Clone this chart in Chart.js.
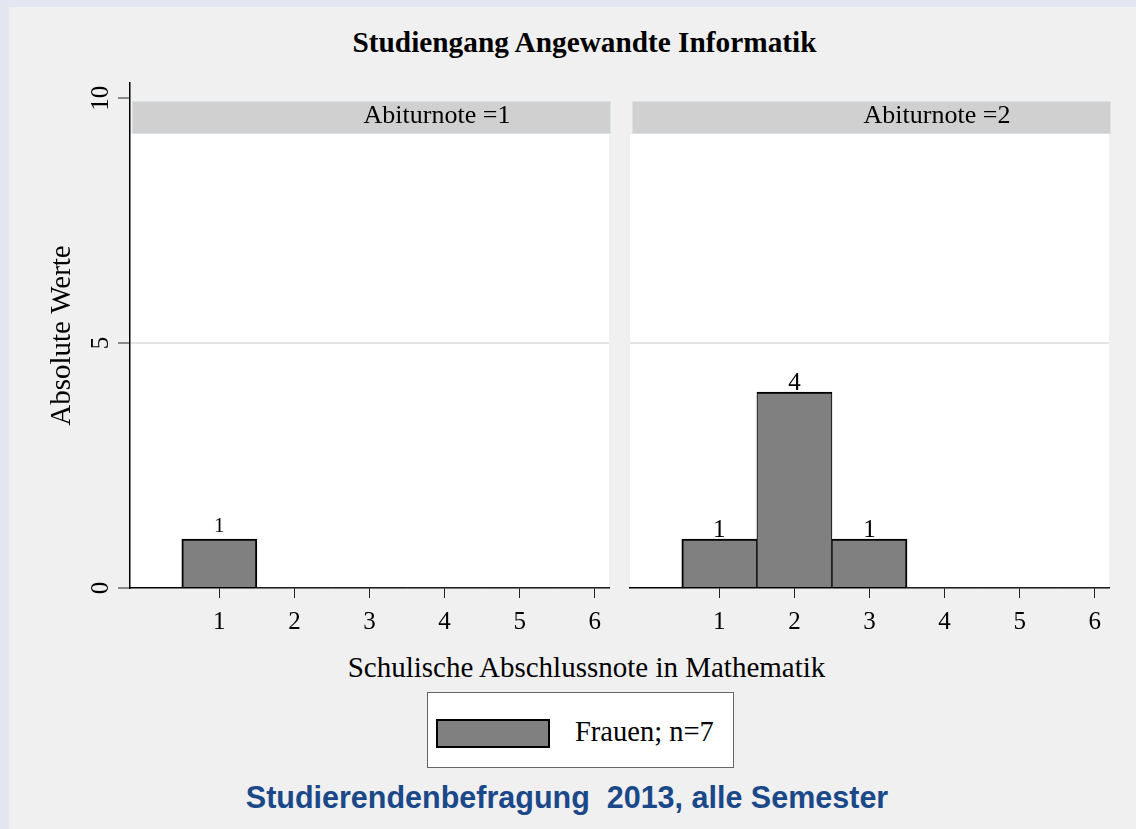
<!DOCTYPE html>
<html><head><meta charset="utf-8">
<script src="https://cdn.jsdelivr.net/npm/chart.js@4.4.0/dist/chart.umd.min.js"></script>
<style>
html,body{margin:0;padding:0;}
body{width:1136px;height:829px;background:#f0f0f0;position:relative;overflow:hidden;font-family:"Liberation Serif","Times New Roman",serif;}
#bandTop{position:absolute;left:0;top:0;width:1136px;height:7px;background:#e3e5f1;}
#bandLeft{position:absolute;left:0;top:0;width:9px;height:829px;background:#e3e5f1;}
.txt{position:absolute;white-space:nowrap;line-height:1;transform:translateX(-50%);color:#000;}
canvas{position:absolute;top:0;}
#legend{position:absolute;left:427px;top:692px;width:305px;height:74px;background:#fff;border:1px solid #666;}
#swatch{position:absolute;left:8px;top:26px;width:110px;height:25px;background:#808080;border:2px solid #000;}
#legText{position:absolute;left:147px;top:25px;font-size:28.5px;line-height:1;white-space:nowrap;}
</style></head>
<body>
<div id="bandTop"></div><div id="bandLeft"></div>
<div class="txt" id="title" style="left:584.5px;top:27.7px;font-size:29.3px;font-weight:bold;"></div>
<canvas id="c1" width="620" height="640" style="left:0px;width:620px;height:640px;"></canvas>
<canvas id="c2" width="516" height="640" style="left:620px;width:516px;height:640px;"></canvas>
<div class="txt" id="xtitle" style="left:586.5px;top:652.7px;font-size:29px;"></div>
<div id="legend"><div id="swatch"></div><div id="legText"></div></div>
<div class="txt" id="footer" style="left:567px;top:782.3px;font-size:30.5px;font-weight:bold;font-family:'Liberation Sans',Arial,sans-serif;color:#1a4888;"></div>
<script>
// ---- data ----
const grades = [1, 2, 3, 4, 5, 6];
const countsAbi1 = [1, 0, 0, 0, 0, 0];
const countsAbi2 = [1, 4, 1, 0, 0, 0];
const panelTitles = ['Abiturnote =1', 'Abiturnote =2'];
const yTicks = [0, 5, 10];
const yMax = 10.31;
const xMin = -0.19, xMax = 6.19;
const seriesLabel = 'Frauen; n=7';
const chartTitle = 'Studiengang Angewandte Informatik';
const xTitle = 'Schulische Abschlussnote in Mathematik';
const yTitle = 'Absolute Werte';
const footerText = 'Studierendenbefragung\u00a0\u00a02013, alle Semester';

document.getElementById('title').textContent = chartTitle;
document.getElementById('xtitle').textContent = xTitle;
document.getElementById('legText').textContent = seriesLabel;
document.getElementById('footer').textContent = footerText;

const SERIF = 'Liberation Serif';

const panelPlugin = {
  id: 'panel',
  beforeDraw(chart, args, opts) {
    const {ctx, chartArea: a} = chart;
    const stripTop = a.top + 18, stripH = 33;
    ctx.save();
    ctx.fillStyle = '#ffffff';
    ctx.fillRect(a.left, stripTop + stripH, a.right - a.left, a.bottom - stripTop - stripH);
    ctx.fillStyle = '#d0d0d0';
    ctx.fillRect(a.left + 2, stripTop, a.right - a.left, stripH);
    ctx.strokeStyle = '#d9e2e7';
    ctx.lineWidth = 1;
    ctx.strokeRect(a.left + 2.5, stripTop + 0.5, a.right - a.left - 1, stripH - 1);
    ctx.fillStyle = '#000';
    ctx.font = '26px "' + SERIF + '"';
    ctx.textAlign = 'center';
    ctx.textBaseline = 'alphabetic';
    ctx.fillText(opts.title, a.left + 2 + 305, stripTop + 22);
    ctx.restore();
  },
  afterDatasetsDraw(chart, args, opts) {
    const ctx = chart.ctx;
    const meta = chart.getDatasetMeta(0);
    const vals = chart.data.datasets[0].data;
    ctx.save();
    ctx.fillStyle = '#000';
    ctx.font = opts.labelSize + 'px "' + SERIF + '"';
    ctx.textAlign = 'center';
    ctx.textBaseline = 'alphabetic';
    meta.data.forEach((bar, i) => {
      if (vals[i] > 0) ctx.fillText(String(vals[i]), bar.x, bar.y - opts.labelGap);
    });
    ctx.restore();
  }
};

function barDataset(values) {
  return {
    label: seriesLabel,
    data: values,
    backgroundColor: '#808080',
    borderColor: '#000000',
    borderSkipped: 'start',
    borderWidth: (c) => {
      const d = c.dataset.data, i = c.dataIndex;
      if (i === undefined || !d[i]) return 0;
      return {top: 2, left: d[i - 1] ? 1 : 2, right: d[i + 1] ? 1 : 2, bottom: 0};
    },
    barPercentage: 1,
    categoryPercentage: 1
  };
}

const gridColor = (c) => (c.tick && c.tick.value === 5) ? '#e4e4e4' : 'rgba(0,0,0,0)';

function makeOptions(isLeft, title, labelSize, labelGap) {
  const y = isLeft ? {
    min: 0, max: yMax,
    afterBuildTicks: (s) => { s.ticks = yTicks.map(v => ({value: v})); },
    afterFit: (s) => { s.width = 130; },
    ticks: {font: {family: SERIF, size: 25}, color: '#000', minRotation: 90, maxRotation: 90, crossAlign: 'center', padding: 4},
    grid: {color: gridColor, lineWidth: 2, tickColor: '#222', tickLength: 12, tickWidth: 1},
    border: {display: true, color: '#000', width: 1.5},
    title: {display: true, text: yTitle, color: '#000', font: {family: SERIF, size: 29}, padding: {top: 45, bottom: 0}}
  } : {
    min: 0, max: yMax,
    afterBuildTicks: (s) => { s.ticks = yTicks.map(v => ({value: v})); },
    afterFit: (s) => { s.width = 10; },
    ticks: {display: false},
    grid: {color: gridColor, lineWidth: 2, drawTicks: false},
    border: {display: false}
  };
  return {
    responsive: false,
    animation: false,
    devicePixelRatio: 1,
    layout: {padding: {top: 83, left: 0, right: isLeft ? 11 : 27, bottom: 0}},
    plugins: {legend: {display: false}, tooltip: {enabled: false}, panel: {title, labelSize, labelGap}},
    scales: {
      x: {
        type: 'linear', min: xMin, max: xMax, offset: false,
        afterBuildTicks: (s) => { s.ticks = grades.map(v => ({value: v})); },
        afterFit: (s) => { s.height = 52; },
        ticks: {font: {family: SERIF, size: 25}, color: '#000', padding: 9, maxRotation: 0, autoSkip: false},
        grid: {offset: false, drawOnChartArea: false, drawTicks: true, tickLength: 10, tickColor: '#222', tickWidth: 1},
        border: {color: '#000', width: 1.5}
      },
      y
    }
  };
}

new Chart(document.getElementById('c1'), {
  type: 'bar',
  data: {labels: grades, datasets: [barDataset(countsAbi1)]},
  options: makeOptions(true, panelTitles[0], 21, 7),
  plugins: [panelPlugin]
});
new Chart(document.getElementById('c2'), {
  type: 'bar',
  data: {labels: grades, datasets: [barDataset(countsAbi2)]},
  options: makeOptions(false, panelTitles[1], 25, 2),
  plugins: [panelPlugin]
});
</script>
</body></html>
